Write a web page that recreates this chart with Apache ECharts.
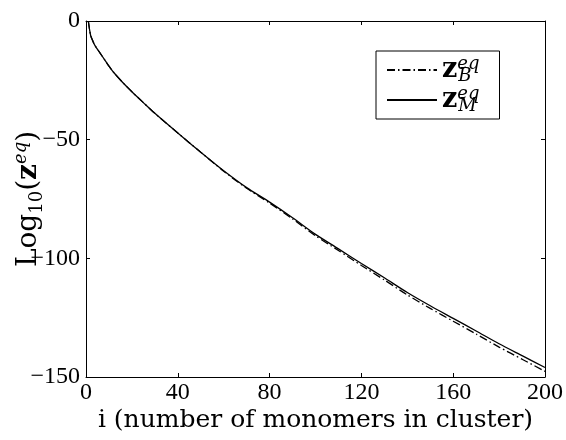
<!DOCTYPE html>
<html>
<head>
<meta charset="utf-8">
<script src="https://cdn.jsdelivr.net/npm/echarts@6/dist/echarts.min.js"></script>
<style>html,body{margin:0;padding:0;background:#fff}#c{width:566px;height:440px}</style>
</head>
<body>
<div id="c"></div>
<script>
// Data
var clusterSize = [1, 2, 3, 4, 6, 8, 10, 12, 16, 20, 25, 30, 40, 50, 60, 70, 80, 90, 100, 110, 120, 130, 140, 150, 160, 170, 180, 190, 200];
var logZM = [0, -6, -8.5, -10.5, -13.3, -16.2, -19, -21.6, -25.9, -29.8, -34.4, -38.9, -47.2, -55.3, -63.1, -70.2, -76.3, -82.9, -89.9, -96.0, -102.2, -108.2, -114.4, -120.0, -125.3, -130.6, -136.0, -141.0, -146.0];
var logZB = [0, -6, -8.5, -10.5, -13.3, -16.2, -19, -21.6, -25.9, -29.8, -34.4, -38.9, -47.2, -55.3, -63.3, -70.5, -76.7, -83.4, -90.5, -96.7, -103.0, -109.1, -115.4, -121.1, -126.5, -131.9, -137.4, -142.5, -147.6];
var xTicks = [0, 40, 80, 120, 160, 200];
var yTicks = [0, -50, -100, -150];

var serif = 'DejaVu Serif';
var tickFont = 'Liberation Serif';

function pairs(xs, ys) { return xs.map(function (x, k) { return [x, ys[k]]; }); }
function axisLine() { return { show: true, onZero: false, lineStyle: { color: '#000', width: 1 } }; }
function tick() { return { show: true, inside: true, length: 4, lineStyle: { color: '#000', width: 1 } }; }

var chart = echarts.init(document.getElementById('c'), null, { renderer: 'canvas' });

chart.setOption({
  animation: false,
  backgroundColor: '#fff',
  grid: { left: 86, right: 21, top: 21, bottom: 63, containLabel: false, outerBoundsMode: 'none' },
  legend: {
    orient: 'vertical',
    left: 376, top: 51,
    padding: [4, 20, 4, 10],
    itemGap: 0,
    itemWidth: 50,
    itemHeight: 14,
    itemStyle: { opacity: 0 },
    borderColor: '#000', borderWidth: 1, borderRadius: 0,
    backgroundColor: '#fff',
    data: ['zB', 'zM'],
    formatter: function (n) {
      return '{z|z}{sup|eq}{sub|' + (n === 'zB' ? 'B' : 'M') + '}';
    },
    textStyle: {
      color: '#000',
      rich: {
        z: { fontFamily: serif, fontWeight: 'bold', fontSize: 27, lineHeight: 30, color: '#000' },
        sup: { fontFamily: serif, fontStyle: 'italic', fontSize: 18, lineHeight: 17, verticalAlign: 'top', width: 1, color: '#000' },
        sub: { fontFamily: serif, fontStyle: 'italic', fontSize: 18, lineHeight: 17, verticalAlign: 'bottom', color: '#000' }
      }
    }
  },
  xAxis: [{
    type: 'value', min: 0, max: 200, interval: 40, position: 'bottom',
    axisLine: axisLine(), axisTick: tick(), splitLine: { show: false },
    axisLabel: { color: '#000', fontFamily: tickFont, fontSize: 24, margin: 4,
      customValues: xTicks },
    name: 'i (number of monomers in cluster)',
    nameLocation: 'middle', nameGap: 31, nameMoveOverlap: false,
    nameTextStyle: { color: '#000', fontFamily: serif, fontSize: 25 }
  }, {
    type: 'value', min: 0, max: 200, interval: 40, position: 'top',
    axisLine: axisLine(), axisTick: tick(), splitLine: { show: false },
    axisLabel: { show: false }
  }],
  yAxis: [{
    type: 'value', min: -150, max: 0, interval: 50, position: 'left',
    axisLine: axisLine(), axisTick: tick(), splitLine: { show: false },
    axisLabel: { color: '#000', fontFamily: tickFont, fontSize: 24, margin: 6,
      formatter: function (v) { return String(v).replace('-', '\u2212'); } },
    name: 'Log{s|10}({z|z}{sup|eq})',
    nameLocation: 'middle', nameRotate: 90, nameGap: 40, nameMoveOverlap: false,
    nameTextStyle: {
      color: '#000', fontFamily: serif, fontSize: 28,
      rich: {
        s: { fontFamily: serif, fontSize: 18, lineHeight: 17, verticalAlign: 'bottom', color: '#000' },
        z: { fontFamily: serif, fontWeight: 'bold', fontSize: 28, lineHeight: 34, color: '#000' },
        sup: { fontFamily: serif, fontStyle: 'italic', fontSize: 18, lineHeight: 17, verticalAlign: 'top', color: '#000' }
      }
    }
  }, {
    type: 'value', min: -150, max: 0, interval: 50, position: 'right',
    axisLine: axisLine(), axisTick: tick(), splitLine: { show: false },
    axisLabel: { show: false }
  }],
  series: [{
    name: 'zB', type: 'line', xAxisIndex: 0, yAxisIndex: 0,
    data: pairs(clusterSize, logZB), symbol: 'none', smooth: 0.25,
    color: '#000',
    lineStyle: { color: '#000', width: 1.3, type: [8, 3, 1.5, 3] }
  }, {
    name: 'zM', type: 'line', xAxisIndex: 0, yAxisIndex: 0,
    data: pairs(clusterSize, logZM), symbol: 'none', smooth: 0.25,
    color: '#000',
    lineStyle: { color: '#000', width: 1.3, type: 'solid' }
  }]
});
</script>
</body>
</html>
